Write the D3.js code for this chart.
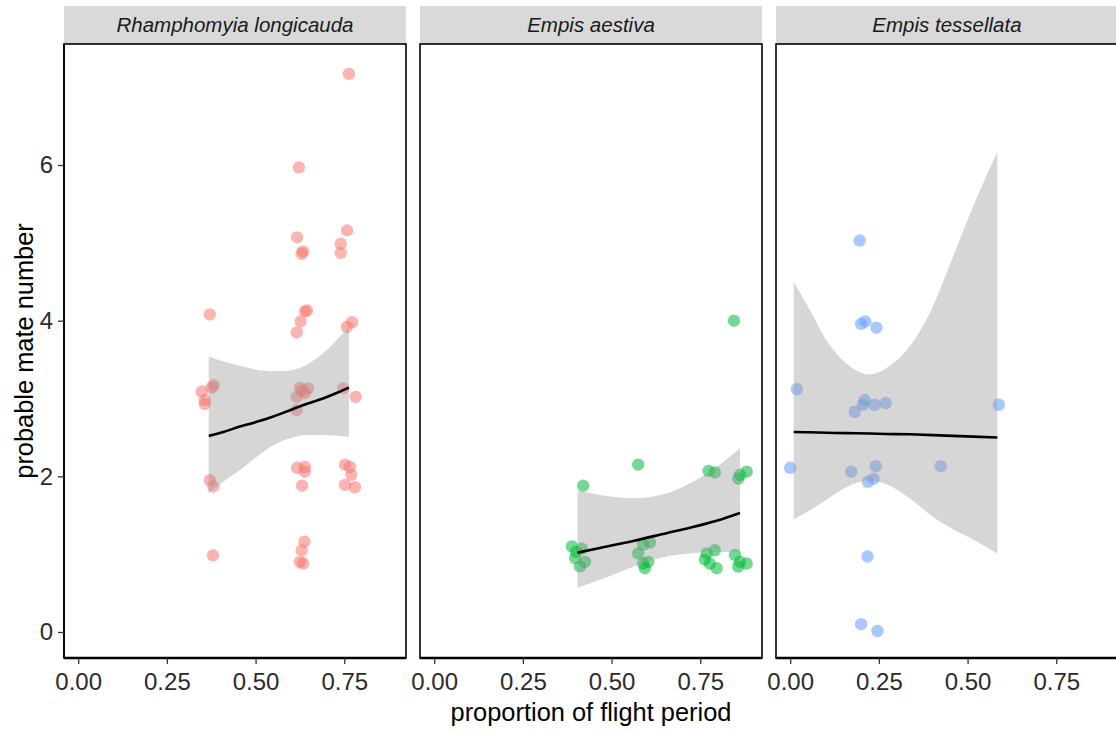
<!DOCTYPE html>
<html>
<head>
<meta charset="utf-8">
<script src="https://cdn.jsdelivr.net/npm/d3@7"></script>
<style>
  html, body { margin: 0; padding: 0; background: #ffffff; }
  svg { display: block; }
  text { font-family: "Liberation Sans", Arial, sans-serif; }
</style>
</head>
<body>
<div id="chart"></div>
<script>
// ---------- data ----------
const speciesNames = ["Rhamphomyia longicauda", "Empis aestiva", "Empis tessellata"];
const speciesColors = ["#F8766D", "#00BA38", "#619CFF"];

const xTicks = [0, 0.25, 0.5, 0.75];
const yTicks = [0, 2, 4, 6];
const xTickLabels = ["0.00", "0.25", "0.50", "0.75"];
const yTickLabels = ["0", "2", "4", "6"];

// Rhamphomyia longicauda points
const rlX = [0.763, 0.622, 0.617, 0.634, 0.630, 0.758, 0.740, 0.740, 0.371, 0.639, 0.645, 0.627, 0.616, 0.772, 0.757,
  0.348, 0.357, 0.357, 0.376, 0.382,
  0.625, 0.648, 0.616, 0.639, 0.616, 0.630,
  0.747, 0.782,
  0.371, 0.381,
  0.380,
  0.617, 0.639, 0.639, 0.631,
  0.752, 0.766, 0.770, 0.752, 0.780,
  0.638, 0.630, 0.625, 0.634];
const rlY = [7.17, 5.97, 5.07, 4.89, 4.86, 5.16, 4.99, 4.87, 4.08, 4.12, 4.13, 3.99, 3.85, 3.98, 3.92,
  3.09, 2.98, 2.93, 3.14, 3.17,
  3.14, 3.13, 3.02, 3.07, 2.85, 3.10,
  3.13, 3.02,
  1.95, 1.87,
  0.985,
  2.11, 2.12, 2.06, 1.88,
  2.15, 2.12, 2.02, 1.89, 1.86,
  1.16, 1.05, 0.90, 0.88];

// Empis aestiva points
const eaX = [0.420, 0.575, 0.773, 0.791, 0.862, 0.881, 0.857, 0.845,
  0.388, 0.416, 0.397, 0.425, 0.411, 0.400,
  0.589, 0.608, 0.575, 0.589, 0.603, 0.594,
  0.768, 0.791, 0.763, 0.777, 0.796,
  0.848, 0.862, 0.881, 0.857];
const eaY = [1.88, 2.15, 2.07, 2.05, 2.02, 2.06, 1.97, 4.00,
  1.10, 1.07, 0.95, 0.90, 0.84, 1.03,
  1.12, 1.15, 1.01, 0.88, 0.90, 0.82,
  1.01, 1.05, 0.93, 0.88, 0.82,
  0.99, 0.90, 0.88, 0.84];

// Empis tessellata points
const etX = [0.196, 0.200, 0.212, 0.243, 0.019, 0.210, 0.205, 0.238, 0.269, 0.182, 0.588,
  0.000, 0.172, 0.241, 0.219, 0.235, 0.424, 0.218, 0.200, 0.246];
const etY = [5.03, 3.96, 3.99, 3.91, 3.12, 2.98, 2.92, 2.92, 2.94, 2.83, 2.92,
  2.11, 2.06, 2.13, 1.93, 1.97, 2.13, 0.97, 0.10, 0.013];

// fitted smooth + confidence band, read at several x positions
const rlSmoothX = [0.368, 0.409, 0.456, 0.503, 0.550, 0.597, 0.643, 0.690, 0.728, 0.763];
const rlFit     = [2.52, 2.57, 2.64, 2.70, 2.77, 2.85, 2.93, 3.00, 3.07, 3.14];
const rlLower   = [1.78, 1.93, 2.08, 2.25, 2.40, 2.49, 2.53, 2.53, 2.52, 2.51];
const rlUpper   = [3.54, 3.48, 3.42, 3.37, 3.35, 3.36, 3.43, 3.58, 3.75, 3.92];

const eaSmoothX = [0.404, 0.467, 0.561, 0.655, 0.721, 0.796, 0.862];
const eaFit     = [1.02, 1.08, 1.17, 1.27, 1.34, 1.43, 1.53];
const eaLower   = [0.57, 0.67, 0.84, 0.97, 1.01, 1.03, 1.02];
const eaUpper   = [1.82, 1.76, 1.72, 1.78, 1.91, 2.12, 2.36];

const etSmoothX = [0.010, 0.055, 0.102, 0.158, 0.224, 0.271, 0.337, 0.402, 0.459, 0.515, 0.584];
const etFit     = [2.57, 2.566, 2.56, 2.555, 2.55, 2.545, 2.54, 2.53, 2.52, 2.51, 2.50];
const etLower   = [1.45, 1.56, 1.70, 1.86, 1.95, 1.90, 1.72, 1.48, 1.32, 1.19, 1.01];
const etUpper   = [4.50, 4.14, 3.75, 3.45, 3.31, 3.39, 3.67, 4.18, 4.82, 5.46, 6.17];

// ---------- assemble ----------
const panelsData = [
  { name: speciesNames[0], color: speciesColors[0], xs: rlX, ys: rlY, sx: rlSmoothX, fit: rlFit, lo: rlLower, hi: rlUpper },
  { name: speciesNames[1], color: speciesColors[1], xs: eaX, ys: eaY, sx: eaSmoothX, fit: eaFit, lo: eaLower, hi: eaUpper },
  { name: speciesNames[2], color: speciesColors[2], xs: etX, ys: etY, sx: etSmoothX, fit: etFit, lo: etLower, hi: etUpper }
];

const W = 1116, H = 731;
const panelLeft = 64, panelW = 342, panelGap = 14;
const stripTop = 6, stripH = 38;
const panelTop = stripTop + stripH, panelBottom = 658;

const svg = d3.select("#chart").append("svg")
  .attr("width", W).attr("height", H);

const y = d3.scaleLinear().domain([-0.334, 7.555]).range([panelBottom, panelTop]);

panelsData.forEach((p, i) => {
  const x0 = panelLeft + i * (panelW + panelGap);
  const x = d3.scaleLinear().domain([-0.04, 0.924]).range([x0, x0 + panelW]);
  const g = svg.append("g");

  // strip
  g.append("rect")
    .attr("x", x0).attr("y", stripTop)
    .attr("width", panelW).attr("height", stripH)
    .attr("fill", "#d9d9d9");
  g.append("text")
    .attr("x", x0 + panelW / 2).attr("y", stripTop + stripH / 2)
    .attr("dy", "0.36em")
    .attr("text-anchor", "middle")
    .attr("font-size", 20.5).attr("font-style", "italic")
    .attr("fill", "#1a1a1a")
    .text(p.name);

  // clip for marks
  const clipId = "clip" + i;
  svg.append("clipPath").attr("id", clipId)
    .append("rect").attr("x", x0).attr("y", panelTop).attr("width", panelW).attr("height", panelBottom - panelTop);

  const marks = g.append("g").attr("clip-path", `url(#${clipId})`);

  // points
  marks.selectAll("circle").data(p.xs.map((v, k) => [v, p.ys[k]]))
    .enter().append("circle")
    .attr("cx", d => x(d[0])).attr("cy", d => y(d[1]))
    .attr("r", 6.2)
    .attr("fill", p.color).attr("fill-opacity", 0.55);

  // band
  const band = p.sx.map((v, k) => ({ x: v, lo: p.lo[k], hi: p.hi[k], f: p.fit[k] }));
  marks.append("path").datum(band)
    .attr("d", d3.area().x(d => x(d.x)).y0(d => y(d.lo)).y1(d => y(d.hi)).curve(d3.curveMonotoneX))
    .attr("fill", "#999999").attr("fill-opacity", 0.4);
  marks.append("path").datum(band)
    .attr("d", d3.line().x(d => x(d.x)).y(d => y(d.f)).curve(d3.curveMonotoneX))
    .attr("fill", "none").attr("stroke", "#000").attr("stroke-width", 2.6);

  // panel border
  g.append("rect")
    .attr("x", x0).attr("y", panelTop)
    .attr("width", panelW).attr("height", panelBottom - panelTop)
    .attr("fill", "none").attr("stroke", "#000").attr("stroke-width", 1.6);

  // x axis
  const xAxis = d3.axisBottom(x).tickValues(xTicks)
    .tickFormat((d, k) => xTickLabels[k]).tickSize(6).tickPadding(9);
  const ax = g.append("g").attr("transform", `translate(0,${panelBottom})`).call(xAxis);
  ax.select(".domain").attr("stroke", "#000").attr("stroke-width", 2.4)
    .attr("d", `M${x0},0H${x0 + panelW}`);
  ax.selectAll(".tick line").attr("stroke", "#333").attr("stroke-width", 1.3);
  ax.selectAll(".tick text").attr("font-size", 24).attr("fill", "#2b2b2b")
    .attr("font-family", "Liberation Sans, Arial, sans-serif");

  if (i === 0) {
    const yAxis = d3.axisLeft(y).tickValues(yTicks)
      .tickFormat((d, k) => yTickLabels[k]).tickSize(6).tickPadding(5);
    const ay = g.append("g").attr("transform", `translate(${x0},0)`).call(yAxis);
    ay.select(".domain").attr("stroke", "#000").attr("stroke-width", 1.6)
      .attr("d", `M0,${panelTop}V${panelBottom}`);
    ay.selectAll(".tick line").attr("stroke", "#333").attr("stroke-width", 1.3);
    ay.selectAll(".tick text").attr("font-size", 24).attr("fill", "#2b2b2b")
      .attr("font-family", "Liberation Sans, Arial, sans-serif");
  }
});

// axis titles
svg.append("text")
  .attr("x", panelLeft + (3 * panelW + 2 * panelGap) / 2)
  .attr("y", 721)
  .attr("text-anchor", "middle")
  .attr("font-size", 25.4).attr("fill", "#000")
  .text("proportion of flight period");

svg.append("text")
  .attr("transform", `translate(33,${(panelTop + panelBottom) / 2}) rotate(-90)`)
  .attr("text-anchor", "middle")
  .attr("font-size", 25.4).attr("fill", "#000")
  .text("probable mate number");
</script>
</body>
</html>
